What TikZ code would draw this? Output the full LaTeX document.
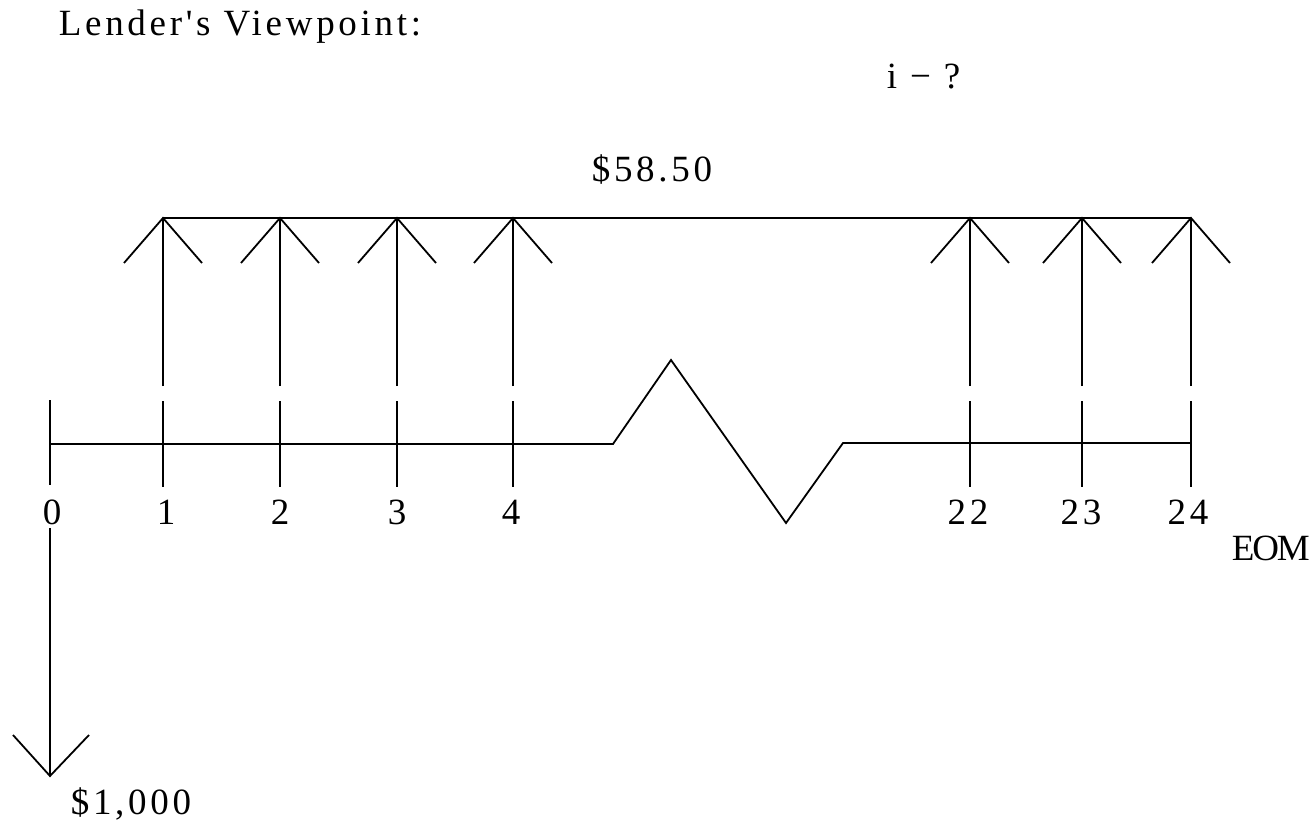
\documentclass[tikz,border=0pt]{standalone}
\usepackage{fontspec}
\setmainfont{Liberation Serif}[LetterSpace=10]
\newfontfamily\plainfont{Liberation Serif}[LetterSpace=10]
\begin{document}
\begin{tikzpicture}[x=1pt,y=-1pt,line width=1.8pt,
  lbl/.style={font=\fontsize{37}{40}\selectfont, inner sep=0pt},
  ln/.style={line width=1.8pt, line cap=butt}]
\useasboundingbox (0,0) rectangle (1310,821);
% texts
\node[lbl,anchor=base west,font=\plainfont\fontsize{37}{40}\selectfont] (title) at (58,36) {Lender's Viewpoint:};
\node[lbl,anchor=base west] (rate) at (886,89) {i − ?};
\node[lbl,anchor=base] (pmt) at (652,182) {\$58.50};
\node[lbl,anchor=base] (loan) at (131,814) {\$1,000};
\node[lbl,anchor=base west,font=\fontsize{37}{40}\selectfont\addfontfeature{LetterSpace=-6}] (eom) at (1231,560) {EOM};
% period labels
\foreach \x/\t in {52/0,166/1,280/2,397/3,511/4,968/22,1081/23,1188/24}{
  \node[lbl,anchor=base] (p\t) at (\x,524) {\t};
}
% up arrows
\foreach \x in {163,280,397,513,970,1082,1191}{
  \coordinate (tip\x) at (\x,218);
  \coordinate (foot\x) at (\x,386);
  \draw[ln] (foot\x) -- (tip\x);
  \draw[ln] ([shift={(-39,45)}]tip\x) -- (tip\x) -- ([shift={(39,45)}]tip\x);
  \draw[ln] (\x,401) -- (\x,487);
}
\draw[ln] (tip163) -- (tip1191);
% tick at 0
\coordinate (z) at (50,444);
\draw[ln] (50,400) -- (50,485);
% timeline with break
\coordinate (b1) at (613,444);
\coordinate (b2) at (671,360);
\coordinate (b3) at (786,523);
\coordinate (b4) at (843,443);
\coordinate (e) at (1191,443);
\draw[ln] (z) -- (b1) -- (b2) -- (b3) -- (b4) -- (e);
% down arrow
\coordinate (dtop) at (50,528);
\coordinate (dtip) at (50,776);
\draw[ln] (dtop) -- (dtip);
\draw[ln] ([shift={(-37,-41)}]dtip) -- (dtip) -- ([shift={(39,-41)}]dtip);
\end{tikzpicture}
\end{document}
